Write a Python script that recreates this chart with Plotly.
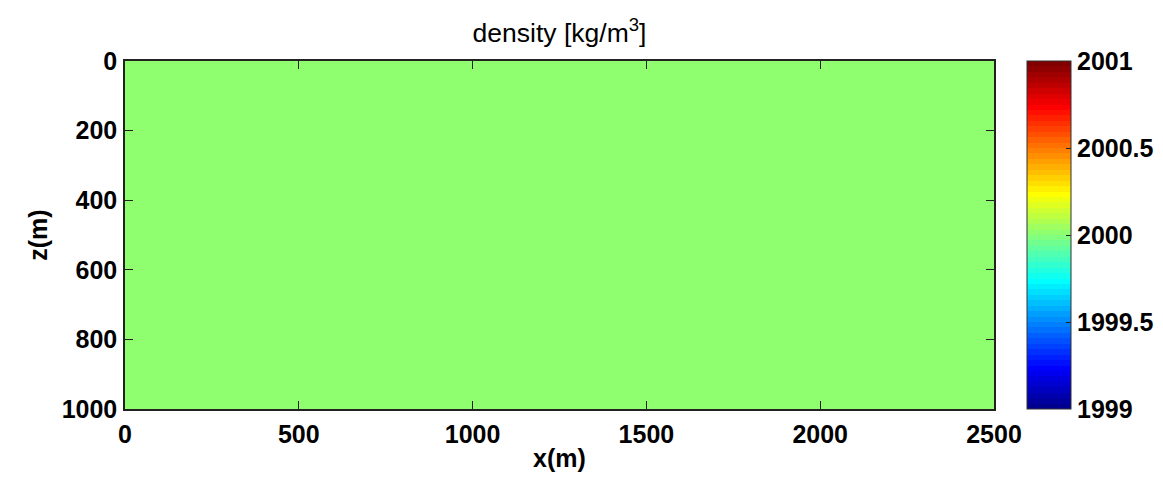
import numpy as np
import plotly.graph_objects as go

# Model grid edges (m) and the density field on it
x_edges = [0, 2500]
z_edges = [0, 1000]
density = [[2000]]

x_ticks = [0, 500, 1000, 1500, 2000, 2500]
z_ticks = [0, 200, 400, 600, 800, 1000]
cbar_ticks = [1999, 1999.5, 2000, 2000.5, 2001]
cbar_labels = ["1999", "1999.5", "2000", "2000.5", "2001"]
cmin, cmax = 1999, 2001


def jet(m=64):
    """MATLAB jet(m) colormap as rgb strings."""
    n = int(np.ceil(m / 4))
    u = np.concatenate([np.arange(1, n + 1) / n, np.ones(n - 1), np.arange(n, 0, -1) / n])
    g = int(np.ceil(n / 2)) - (1 if m % 4 == 1 else 0) + np.arange(1, len(u) + 1)
    r = g + n
    b = g - n
    rgb = np.zeros((m, 3))
    for idx, col in ((r, 0), (g, 1), (b, 2)):
        keep = (idx >= 1) & (idx <= m)
        rgb[idx[keep] - 1, col] = u[keep]
    return [f"rgb({int(round(c[0]*255))},{int(round(c[1]*255))},{int(round(c[2]*255))})" for c in rgb]


def stepped(cols):
    n = len(cols)
    scale = []
    for i, c in enumerate(cols):
        scale.append([i / n, c])
        scale.append([(i + 1) / n, c])
    return scale


font_family = "Liberation Sans, Arial, Helvetica, sans-serif"
tick_font = dict(family=font_family, size=25, color="black", weight="bold")
frame = "#222222"

fig = go.Figure(
    go.Heatmap(
        x=x_edges,
        y=z_edges,
        z=density,
        zmin=cmin,
        zmax=cmax,
        colorscale=stepped(jet(64)),
        colorbar=dict(
            x=1.038,
            xanchor="left",
            xref="paper",
            y=0.5,
            yanchor="middle",
            len=1.0,
            lenmode="fraction",
            thickness=44,
            thicknessmode="pixels",
            outlinecolor="#333333",
            outlinewidth=1,
            tickvals=cbar_ticks,
            ticktext=cbar_labels,
            ticks="inside",
            ticklen=5,
            tickcolor=frame,
            tickfont=tick_font,
            xpad=0,
            ypad=0,
        ),
    )
)

fig.update_layout(
    width=1163,
    height=478,
    margin=dict(l=125, r=169, t=61, b=69, autoexpand=False),
    paper_bgcolor="white",
    plot_bgcolor="white",
    title=dict(
        text="density [kg/m<sup>3</sup>]",
        x=(125 + 994) / 2 / 1163,
        xanchor="center",
        y=1 - 33 / 478,
        yanchor="middle",
        font=dict(family=font_family, size=26.5, color="black"),
    ),
    xaxis=dict(
        range=[0, 2500],
        tickvals=x_ticks,
        ticks="inside",
        ticklen=8,
        tickcolor=frame,
        showline=True,
        linecolor=frame,
        linewidth=1.5,
        mirror="ticks",
        showgrid=False,
        zeroline=False,
        tickfont=tick_font,
        ticklabelstandoff=2,
        title=dict(text="x(m)", font=tick_font, standoff=3),
    ),
    yaxis=dict(
        range=[1000, 0],
        tickvals=z_ticks,
        ticks="inside",
        ticklen=8,
        tickcolor=frame,
        showline=True,
        linecolor=frame,
        linewidth=1.5,
        mirror="ticks",
        showgrid=False,
        zeroline=False,
        tickfont=tick_font,
        ticklabelstandoff=1,
        title=dict(text="z(m)", font=tick_font, standoff=7),
    ),
)

fig.write_html("out.html")
